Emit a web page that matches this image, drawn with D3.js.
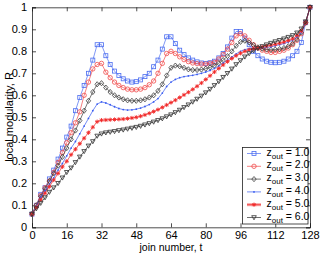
<!DOCTYPE html>
<html><head><meta charset="utf-8">
<script src="https://cdn.jsdelivr.net/npm/d3@7"></script>
<style>body{margin:0;background:#fff}svg{display:block}text{font-family:"Liberation Sans",Arial,sans-serif}</style>
</head><body><svg id="c" width="322" height="253"></svg>
<script>
const joinNumbers = d3.range(0, 129, 2);
const xTicks = [0,16,32,48,64,80,96,112,128];
const yTicks = [0,0.1,0.2,0.3,0.4,0.5,0.6,0.7,0.8,0.9,1];
const zoutLabels = ["1.0","2.0","3.0","4.0","5.0","6.0"];

const z1 = [0.06,0.10,0.15,0.18,0.22,0.26,0.31,0.36,0.41,0.46,0.53,0.59,0.645,0.70,0.76,0.83,
 0.83,0.78,0.74,0.71,0.69,0.675,0.665,0.66,0.662,0.67,0.685,0.70,0.73,0.76,0.81,0.866,
 0.866,0.835,0.805,0.785,0.77,0.76,0.752,0.747,0.745,0.748,0.755,0.77,0.79,0.82,0.86,0.89,
 0.89,0.86,0.83,0.80,0.78,0.765,0.755,0.75,0.748,0.75,0.755,0.765,0.78,0.80,0.84,0.93,1.0];
const z2 = [0.06,0.10,0.145,0.18,0.21,0.25,0.295,0.34,0.385,0.43,0.475,0.525,0.60,0.66,0.72,0.74,
 0.745,0.705,0.68,0.66,0.645,0.635,0.628,0.625,0.625,0.628,0.635,0.648,0.665,0.70,0.745,0.79,
 0.80,0.79,0.775,0.762,0.753,0.747,0.744,0.742,0.742,0.745,0.75,0.765,0.785,0.81,0.84,0.87,
 0.88,0.87,0.85,0.83,0.815,0.805,0.80,0.795,0.795,0.80,0.805,0.815,0.83,0.85,0.88,0.93,1.0];
const z3 = [0.06,0.10,0.14,0.175,0.21,0.245,0.28,0.32,0.36,0.40,0.44,0.485,0.53,0.575,0.615,0.65,
 0.655,0.635,0.615,0.60,0.59,0.582,0.577,0.575,0.575,0.577,0.582,0.59,0.60,0.62,0.65,0.69,
 0.725,0.735,0.732,0.725,0.718,0.715,0.715,0.717,0.721,0.727,0.735,0.746,0.76,0.778,0.80,0.825,
 0.843,0.848,0.84,0.828,0.818,0.812,0.808,0.807,0.808,0.81,0.815,0.823,0.835,0.855,0.885,0.93,1.0];
const z4 = [0.06,0.095,0.135,0.165,0.195,0.225,0.26,0.29,0.325,0.36,0.39,0.425,0.46,0.495,0.53,0.56,
 0.57,0.565,0.557,0.548,0.54,0.535,0.533,0.534,0.537,0.542,0.549,0.558,0.57,0.585,0.61,0.64,
 0.66,0.672,0.68,0.685,0.688,0.691,0.695,0.70,0.706,0.713,0.722,0.733,0.746,0.76,0.774,0.788,
 0.80,0.808,0.812,0.814,0.815,0.816,0.818,0.82,0.825,0.83,0.835,0.842,0.85,0.865,0.885,0.93,1.0];
const z5 = [0.06,0.09,0.125,0.155,0.185,0.215,0.245,0.275,0.30,0.33,0.355,0.38,0.405,0.43,0.455,0.48,
 0.487,0.488,0.489,0.49,0.491,0.492,0.494,0.497,0.50,0.505,0.511,0.518,0.526,0.535,0.545,0.556,
 0.567,0.578,0.59,0.602,0.614,0.627,0.641,0.656,0.672,0.689,0.706,0.722,0.738,0.753,0.767,0.78,
 0.791,0.80,0.807,0.812,0.816,0.82,0.824,0.828,0.832,0.837,0.842,0.849,0.857,0.872,0.893,0.93,1.0];
const z6 = [0.06,0.085,0.11,0.135,0.16,0.18,0.20,0.225,0.25,0.27,0.295,0.32,0.345,0.37,0.39,0.415,
 0.425,0.43,0.433,0.436,0.44,0.443,0.447,0.451,0.455,0.46,0.466,0.472,0.479,0.486,0.494,0.503,
 0.512,0.522,0.533,0.545,0.557,0.57,0.583,0.597,0.612,0.628,0.645,0.663,0.682,0.70,0.72,0.74,
 0.758,0.775,0.79,0.803,0.813,0.822,0.83,0.837,0.844,0.85,0.857,0.864,0.872,0.884,0.902,0.935,1.0];

const seriesValues = [z1,z2,z3,z4,z5,z6];
const styles = [
  {color:"#4a6cf0", marker:"square"},
  {color:"#f04a4a", marker:"circle"},
  {color:"#3c3c3c", marker:"diamond"},
  {color:"#3a5cf0", marker:"dot"},
  {color:"#f02828", marker:"star"},
  {color:"#303030", marker:"tri"}
];

const svg = d3.select("#c");
const L=32, R=310, T=7.3, B=227.3;
const x = d3.scaleLinear().domain([0,128]).range([L,R]);
const y = d3.scaleLinear().domain([0,1]).range([B,T]);

function drawMarker(g, type, color, px, py){
  if(type==="square"){
    g.append("rect").attr("x",px-2).attr("y",py-2).attr("width",4).attr("height",4)
     .attr("fill","none").attr("stroke",color).attr("stroke-width",0.8);
  } else if(type==="circle"){
    g.append("circle").attr("cx",px).attr("cy",py).attr("r",2.2)
     .attr("fill","none").attr("stroke",color).attr("stroke-width",0.8);
  } else if(type==="diamond"){
    g.append("path").attr("d",`M${px},${py-2.6}L${px+2.2},${py}L${px},${py+2.6}L${px-2.2},${py}Z`)
     .attr("fill","none").attr("stroke",color).attr("stroke-width",0.8);
  } else if(type==="dot"){
    g.append("circle").attr("cx",px).attr("cy",py).attr("r",0.9).attr("fill",color);
  } else if(type==="star"){
    const s=2.1, d=1.5;
    g.append("path").attr("d",`M${px-s},${py}L${px+s},${py}M${px},${py-s}L${px},${py+s}M${px-d},${py-d}L${px+d},${py+d}M${px-d},${py+d}L${px+d},${py-d}`)
     .attr("stroke",color).attr("stroke-width",0.9).attr("fill","none");
  } else if(type==="tri"){
    g.append("path").attr("d",`M${px-2.3},${py-1.8}L${px+2.3},${py-1.8}L${px},${py+2.3}Z`)
     .attr("fill","none").attr("stroke",color).attr("stroke-width",0.8);
  }
}

// axes box
const axG = svg.append("g");
const xAxB = d3.axisBottom(x).tickValues(xTicks).tickSize(-4).tickPadding(4).tickFormat(d3.format("d"));
const xAxT = d3.axisTop(x).tickValues(xTicks).tickSize(-4).tickFormat("");
const yAxL = d3.axisLeft(y).tickValues(yTicks).tickSize(-4).tickPadding(5).tickFormat(d=>d===0?"0":d===1?"1":d3.format(".1f")(d));
const yAxR = d3.axisRight(y).tickValues(yTicks).tickSize(-4).tickFormat("");
axG.append("g").attr("transform",`translate(0,${B})`).call(xAxB);
axG.append("g").attr("transform",`translate(0,${T})`).call(xAxT);
axG.append("g").attr("transform",`translate(${L},0)`).call(yAxL);
axG.append("g").attr("transform",`translate(${R},0)`).call(yAxR);
axG.selectAll(".domain").attr("stroke","#222").attr("stroke-width",0.8);
axG.selectAll(".tick line").attr("stroke","#222").attr("stroke-width",0.8);
axG.selectAll(".tick text").attr("font-size",11).attr("fill","#000").attr("font-family","Liberation Sans, Arial, sans-serif");

// series
const line = d3.line().x((d,i)=>x(joinNumbers[i])).y(d=>y(d));
seriesValues.forEach((vals,k)=>{
  const st=styles[k];
  const g=svg.append("g");
  g.append("path").datum(vals).attr("d",line).attr("fill","none").attr("stroke",st.color).attr("stroke-width",0.7);
  vals.forEach((v,i)=>drawMarker(g, st.marker, st.color, x(joinNumbers[i]), y(v)));
});

// axis labels
svg.append("text").attr("x",171).attr("y",250.5).attr("text-anchor","middle").attr("font-size",10.5).text("join number, t");
svg.append("text").attr("transform",`translate(13,117) rotate(-90)`).attr("text-anchor","middle").attr("font-size",11).text("local modularity, R");

// legend
const lg = svg.append("g");
const lx0=242.5, ly0=147.5, lw=65.5, lh=76.5;
lg.append("rect").attr("x",lx0).attr("y",ly0).attr("width",lw).attr("height",lh).attr("fill","#fff").attr("stroke","#222").attr("stroke-width",0.8);
zoutLabels.forEach((lab,k)=>{
  const st=styles[k];
  const cy = ly0+6+k*12.8;
  if(st.marker==="star"){
    lg.append("line").attr("x1",247).attr("x2",261).attr("y1",cy).attr("y2",cy).attr("stroke","#f7a0a0").attr("stroke-width",3);
  }
  lg.append("line").attr("x1",247).attr("x2",261).attr("y1",cy).attr("y2",cy).attr("stroke",st.color).attr("stroke-width",0.7);
  drawMarker(lg, st.marker, st.color, 254, cy);
  const t = lg.append("text").attr("x",266.5).attr("y",cy+2).attr("font-size",10.5);
  t.append("tspan").text("z");
  t.append("tspan").attr("font-size",8).attr("dy",3).text("out");
  t.append("tspan").attr("dy",-3).text(" = "+lab);
});
</script></body></html>
